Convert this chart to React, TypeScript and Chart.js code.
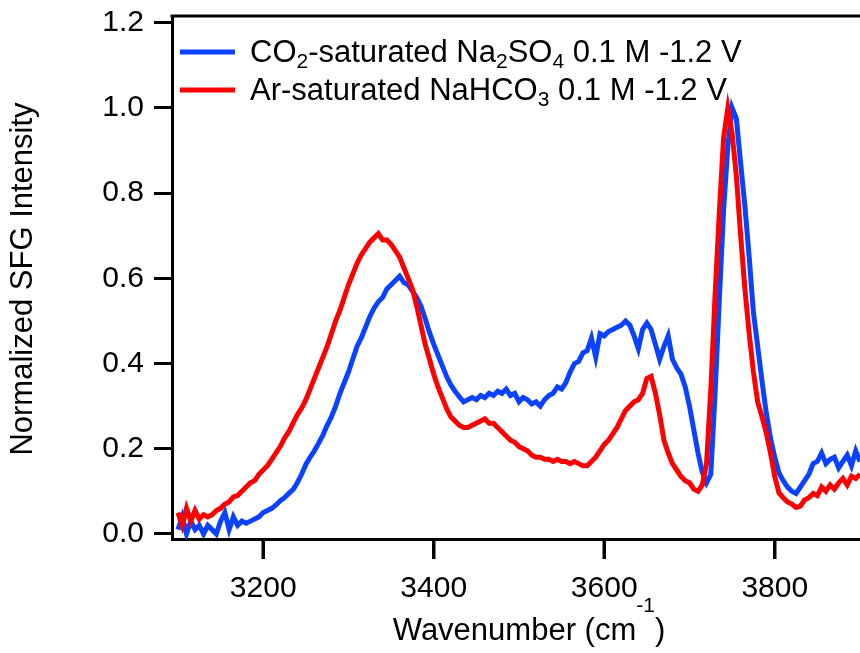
import { useEffect, useRef } from "react";
import { Chart, registerables } from "chart.js";

Chart.register(...registerables);

// Wavenumber grid (cm^-1)
const wavenumbers = [
  3100, 3105, 3110, 3115, 3120, 3125, 3130, 3135, 3140, 3145,
  3150, 3155, 3160, 3165, 3170, 3175, 3180, 3185, 3190, 3195,
  3200, 3205, 3210, 3215, 3220, 3225, 3230, 3235, 3240, 3245,
  3250, 3255, 3260, 3265, 3270, 3275, 3280, 3285, 3290, 3295,
  3300, 3305, 3310, 3315, 3320, 3325, 3330, 3335, 3340, 3345,
  3350, 3355, 3360, 3365, 3370, 3375, 3380, 3385, 3390, 3395,
  3400, 3405, 3410, 3415, 3420, 3425, 3430, 3435, 3440, 3445,
  3450, 3455, 3460, 3465, 3470, 3475, 3480, 3485, 3490, 3495,
  3500, 3505, 3510, 3515, 3520, 3525, 3530, 3535, 3540, 3545,
  3550, 3555, 3560, 3565, 3570, 3575, 3580, 3585, 3590, 3595,
  3600, 3605, 3610, 3615, 3620, 3625, 3630, 3635, 3640, 3645,
  3650, 3655, 3660, 3665, 3670, 3675, 3680, 3685, 3690, 3695,
  3700, 3705, 3710, 3715, 3720, 3725, 3730, 3735, 3740, 3745,
  3750, 3755, 3760, 3765, 3770, 3775, 3780, 3785, 3790, 3795,
  3800, 3805, 3810, 3815, 3820, 3825, 3830, 3835, 3840, 3845,
  3850, 3855, 3860, 3865, 3870, 3875, 3880, 3885, 3890, 3895,
  3900,
];

// CO2-saturated Na2SO4, normalized SFG intensity
const co2Na2so4 = [
  0.01, 0.04, 0.0, 0.03, 0.01, 0.02, 0.0, 0.02, 0.01, 0.0,
  0.03, 0.05, 0.01, 0.04, 0.02, 0.03, 0.025, 0.03, 0.035, 0.04,
  0.05, 0.055, 0.06, 0.068, 0.078, 0.085, 0.095, 0.104, 0.12, 0.14,
  0.163, 0.18, 0.195, 0.213, 0.232, 0.255, 0.275, 0.3, 0.33, 0.355,
  0.38, 0.41, 0.44, 0.46, 0.485, 0.51, 0.53, 0.545, 0.555, 0.575,
  0.585, 0.595, 0.605, 0.59, 0.585, 0.57, 0.555, 0.535, 0.505, 0.473,
  0.445, 0.42, 0.395, 0.37, 0.35, 0.335, 0.322, 0.31, 0.315, 0.32,
  0.315, 0.325, 0.32, 0.33, 0.325, 0.335, 0.33, 0.34, 0.325, 0.33,
  0.31, 0.32, 0.315, 0.305, 0.31, 0.3, 0.315, 0.325, 0.33, 0.345,
  0.34, 0.355, 0.38, 0.4, 0.405, 0.425, 0.43, 0.46, 0.415, 0.47,
  0.465, 0.475, 0.48, 0.485, 0.49, 0.5, 0.49, 0.465, 0.435, 0.48,
  0.495, 0.48, 0.445, 0.41, 0.44, 0.465, 0.41, 0.39, 0.375, 0.345,
  0.3, 0.245, 0.19, 0.145, 0.12, 0.14, 0.33, 0.55, 0.76, 0.91,
  1.0, 0.975, 0.87, 0.77, 0.65, 0.52, 0.44, 0.36, 0.285, 0.225,
  0.18, 0.143, 0.125, 0.11, 0.1, 0.095, 0.11, 0.125, 0.14, 0.165,
  0.17, 0.19, 0.165, 0.175, 0.18, 0.155, 0.17, 0.185, 0.16, 0.195,
  0.17,
];

// Ar-saturated NaHCO3, normalized SFG intensity
const arNahco3 = [
  0.05, 0.02, 0.06, 0.03, 0.055, 0.035, 0.045, 0.04, 0.045, 0.055,
  0.06, 0.07, 0.075, 0.087, 0.09, 0.1, 0.11, 0.12, 0.125, 0.14,
  0.15, 0.16, 0.175, 0.19, 0.205, 0.225, 0.24, 0.26, 0.28, 0.295,
  0.315, 0.34, 0.365, 0.39, 0.415, 0.44, 0.47, 0.5, 0.525, 0.555,
  0.585, 0.61, 0.635, 0.655, 0.67, 0.685, 0.695, 0.705, 0.69, 0.69,
  0.68, 0.665, 0.65, 0.625, 0.6, 0.575, 0.535, 0.49, 0.445, 0.41,
  0.375, 0.345, 0.32, 0.295, 0.275, 0.265, 0.255, 0.25, 0.25, 0.255,
  0.26, 0.265, 0.27, 0.26, 0.26, 0.25, 0.24, 0.23, 0.22, 0.215,
  0.205, 0.2, 0.195, 0.185, 0.18, 0.18, 0.175, 0.175, 0.17, 0.175,
  0.17, 0.17, 0.165, 0.17, 0.165, 0.16, 0.16, 0.17, 0.18, 0.195,
  0.21, 0.22, 0.235, 0.25, 0.27, 0.29, 0.3, 0.31, 0.315, 0.33,
  0.365, 0.37, 0.33, 0.28, 0.22, 0.19, 0.165, 0.15, 0.135, 0.125,
  0.12, 0.105, 0.1, 0.115, 0.165, 0.34, 0.56, 0.755, 0.93, 1.0,
  0.94, 0.84, 0.7, 0.575, 0.47, 0.38, 0.31, 0.275, 0.238, 0.19,
  0.135, 0.096, 0.085, 0.075, 0.07, 0.062, 0.065, 0.08, 0.085, 0.095,
  0.09, 0.11, 0.1, 0.115, 0.105, 0.12, 0.13, 0.115, 0.135, 0.13,
  0.14,
];

const xTicks = [3200, 3400, 3600, 3800];
const yTicks = [0, 0.2, 0.4, 0.6, 0.8, 1.0, 1.2];

type Seg = [string, "" | "sub" | "sup"];

// Legend labels with chemical subscripts
const co2Label: Seg[] = [
  ["CO", ""], ["2", "sub"], ["-saturated Na", ""], ["2", "sub"],
  ["SO", ""], ["4", "sub"], [" 0.1 M -1.2 V", ""],
];
const arLabel: Seg[] = [
  ["Ar-saturated NaHCO", ""], ["3", "sub"], [" 0.1 M -1.2 V", ""],
];
const xTitle: Seg[] = [["Wavenumber (cm", ""], ["-1", "sup"], [")", ""]];
const yTitle = "Normalized SFG Intensity";

const BLUE = "#0a42ff";
const RED = "#ff0000";
const FONT = "'Liberation Sans', Arial, Helvetica, sans-serif";

const plainText = (segs: Seg[]) => segs.map((s) => s[0]).join("");

function segFont(kind: string, size: number) {
  return `${kind ? Math.round(size * 0.68) : size}px ${FONT}`;
}

function richWidth(ctx: CanvasRenderingContext2D, segs: Seg[], size: number) {
  let w = 0;
  for (const [t, k] of segs) {
    ctx.font = segFont(k, size);
    w += ctx.measureText(t).width;
  }
  return w;
}

function drawRich(
  ctx: CanvasRenderingContext2D,
  segs: Seg[],
  x: number,
  y: number,
  size: number,
  subDrop: number,
  supRise: number
) {
  let cx = x;
  ctx.textAlign = "left";
  ctx.textBaseline = "alphabetic";
  for (const [t, k] of segs) {
    ctx.font = segFont(k, size);
    const dy = k === "sub" ? subDrop : k === "sup" ? -supRise : 0;
    ctx.fillText(t, cx, y + dy);
    cx += ctx.measureText(t).width;
  }
}

const decorations = {
  id: "decorations",
  afterDraw(chart: Chart) {
    const { ctx, chartArea } = chart;
    const xScale = chart.scales.x;
    ctx.save();
    ctx.fillStyle = "#000";
    ctx.strokeStyle = "#000";

    // top frame line
    ctx.lineWidth = 3;
    ctx.beginPath();
    ctx.moveTo(chartArea.left - 1.5, chartArea.top);
    ctx.lineTo(chart.width, chartArea.top);
    ctx.stroke();

    // x tick marks (outward) and labels
    for (const v of xTicks) {
      const px = Math.round(xScale.getPixelForValue(v));
      ctx.fillRect(px - 1.5, chartArea.bottom, 3, 20);
    }
    ctx.font = `30px ${FONT}`;
    ctx.textAlign = "center";
    ctx.textBaseline = "alphabetic";
    for (const v of xTicks) {
      ctx.fillText(String(v), xScale.getPixelForValue(v), 597);
    }

    // legend
    const entries: [string, Seg[], number][] = [
      [BLUE, co2Label, 62],
      [RED, arLabel, 100],
    ];
    for (const [color, segs, base] of entries) {
      ctx.strokeStyle = color;
      ctx.lineWidth = 5;
      ctx.beginPath();
      ctx.moveTo(180, base - 10);
      ctx.lineTo(235, base - 10);
      ctx.stroke();
      drawRich(ctx, segs, 250, base, 31, 6, 0);
    }

    // x axis title
    const w = richWidth(ctx, xTitle, 31);
    drawRich(ctx, xTitle, 529 - w / 2, 640, 31, 0, 28);

    // y axis title
    ctx.translate(32, 279);
    ctx.rotate(-Math.PI / 2);
    ctx.font = `31px ${FONT}`;
    ctx.textAlign = "center";
    ctx.textBaseline = "alphabetic";
    ctx.fillText(yTitle, 0, 0);

    ctx.restore();
  },
};

export default function App() {
  const canvasRef = useRef<HTMLCanvasElement | null>(null);

  useEffect(() => {
    document.body.style.margin = "0";
    const canvas = canvasRef.current;
    if (!canvas) return;

    const chart = new Chart(canvas, {
      type: "line",
      data: {
        datasets: [
          {
            label: plainText(co2Label),
            data: wavenumbers.map((x, i) => ({ x, y: co2Na2so4[i] })),
            borderColor: BLUE,
            borderWidth: 5,
            pointRadius: 0,
            tension: 0,
            order: 1,
          },
          {
            label: plainText(arLabel),
            data: wavenumbers.map((x, i) => ({ x, y: arNahco3[i] })),
            borderColor: RED,
            borderWidth: 5,
            pointRadius: 0,
            tension: 0,
            order: 0,
          },
        ],
      },
      options: {
        responsive: false,
        animation: false,
        layout: { padding: { top: 16, left: 0, right: 0, bottom: 0 } },
        plugins: {
          legend: { display: false },
          tooltip: { enabled: false },
        },
        scales: {
          x: {
            type: "linear",
            position: "bottom",
            min: 3093,
            max: 3900,
            afterBuildTicks: (axis: any) => {
              axis.ticks = xTicks.map((v) => ({ value: v }));
            },
            afterFit: (scale: any) => {
              scale.height = 114;
              scale.paddingLeft = 0;
              scale.paddingRight = 0;
            },
            ticks: { display: false, autoSkip: false },
            grid: {
              drawOnChartArea: false,
              drawTicks: true,
              tickLength: 20,
              tickWidth: 3,
              tickColor: "#000",
              lineWidth: 3,
              color: "#000",
            },
            border: { display: true, width: 3, color: "#000" },
          },
          y: {
            type: "linear",
            min: -0.012,
            max: 1.216,
            afterBuildTicks: (axis: any) => {
              axis.ticks = yTicks.map((v) => ({ value: v }));
            },
            afterFit: (scale: any) => {
              scale.width = 172;
              scale.paddingTop = 0;
              scale.paddingBottom = 0;
            },
            ticks: {
              color: "#000",
              font: { family: FONT, size: 30 },
              padding: 10,
              callback: (v: any) => Number(v).toFixed(1),
            },
            grid: {
              drawOnChartArea: false,
              drawTicks: true,
              tickLength: 18,
              tickWidth: 3,
              tickColor: "#000",
              lineWidth: 3,
              color: "#000",
            },
            border: { display: true, width: 3, color: "#000" },
          },
        },
      },
      plugins: [decorations],
    });

    return () => chart.destroy();
  }, []);

  return (
    <div style={{ position: "fixed", left: 0, top: 0, width: 860, height: 653 }}>
      <canvas ref={canvasRef} width={860} height={653} style={{ display: "block" }} />
    </div>
  );
}
